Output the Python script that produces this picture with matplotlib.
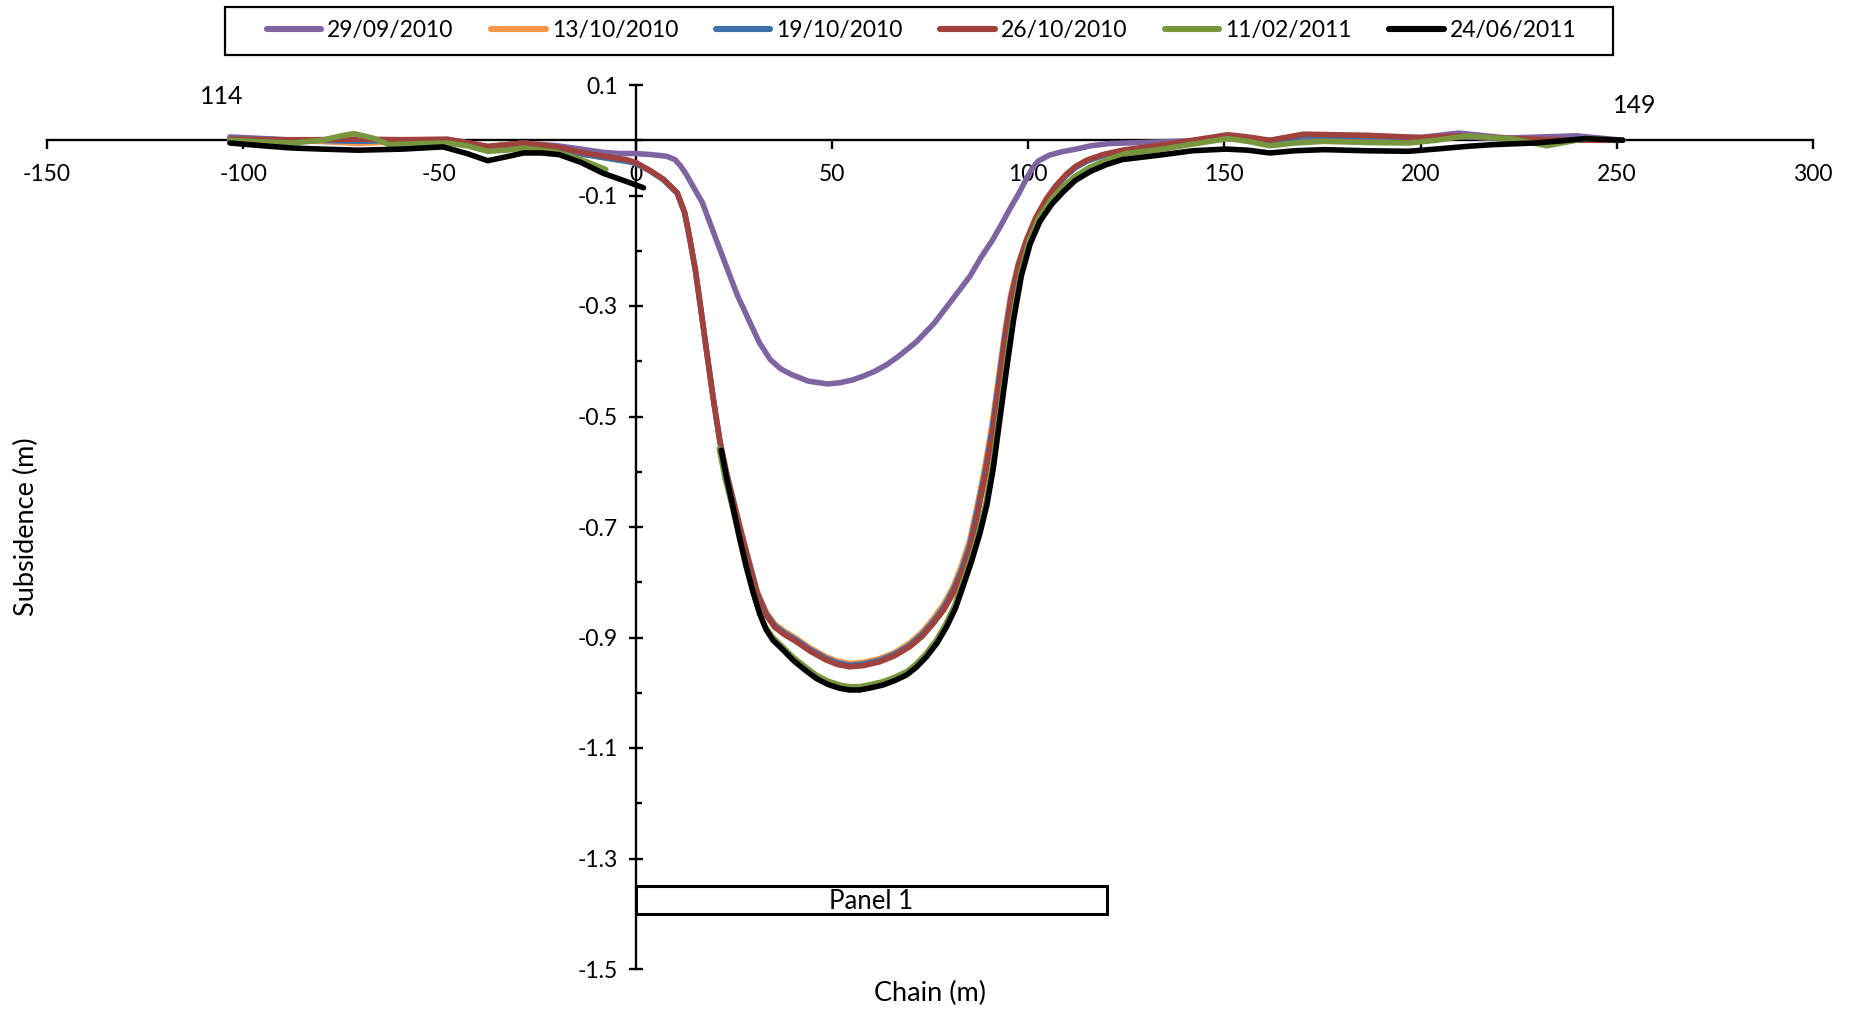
import numpy as np
import matplotlib
matplotlib.use("Agg")
import matplotlib.pyplot as plt
from matplotlib.patches import Rectangle

plt.rcParams['font.family'] = ['Lato', 'DejaVu Sans']
plt.rcParams['axes.unicode_minus'] = False

# ---------------- data ----------------
labels = ["29/09/2010", "13/10/2010", "19/10/2010", "26/10/2010", "11/02/2011", "24/06/2011"]
colors = ["#8064A2", "#F79646", "#3F70AA", "#A0413E", "#77963D", "#000000"]

x_2909 = [-103.4, -92, -82, -70, -59.3, -48, -43, -37.7, -33, -28.6, -20, -13.9, -8.2, -4, 0, 4, 7.9,
          10, 11.5, 13, 14.5, 17.0, 20, 23.4, 26, 28.8, 31.5, 34.3, 37, 39.7, 44, 48.8, 52, 55.2, 58,
          61, 64, 67, 71.5, 76.1, 80.5, 85.2, 88, 90.9, 93, 95.2, 97.5, 99.4, 101, 102.5, 105.4,
          108.5, 112.2, 116, 120.7, 133.4, 142, 150.4, 161.6, 175, 190, 200, 209.7, 222, 239.7, 251.5]
y_2909 = [0.006, 0.002, -0.002, -0.003, -0.004, -0.002, -0.006, -0.012, -0.008, -0.005, -0.010,
          -0.016, -0.022, -0.024, -0.024, -0.026, -0.029, -0.035, -0.047, -0.063, -0.082, -0.113,
          -0.170, -0.234, -0.282, -0.325, -0.366, -0.397, -0.414, -0.424, -0.436, -0.441, -0.439,
          -0.434, -0.427, -0.418, -0.406, -0.391, -0.365, -0.331, -0.290, -0.246, -0.212, -0.181,
          -0.155, -0.126, -0.098, -0.072, -0.052, -0.038, -0.027, -0.021, -0.016, -0.010, -0.006,
          -0.003, -0.001, 0.003, 0.0, 0.005, 0.004, 0.005, 0.013, 0.004, 0.008, 0.0]

# shared chainages for the 13/10, 19/10 and 26/10/2010 surveys
x_oct = [-103.4, -92, -82, -70.7, -59.3, -48, -43, -37.7, -33, -28.6, -20, -13.9, -7, -2.5, 0, 3.5,
         7, 10.6, 12.5, 13.8, 15.2, 16.5, 17.9, 19.7, 21.4, 23, 24.8, 27, 29.1, 31, 33.3, 35.5, 38,
         41, 44.5, 48.6, 51.5, 54.5, 58, 62.2, 66, 69.8, 73, 75.8, 78.5, 80.9, 83, 85.1, 87, 89,
         90.8, 92.5, 94, 95.6, 97.5, 99.5, 102, 104.8, 107, 109.7, 112, 115, 119, 124, 133.4, 141.9,
         150.9, 156, 161.6, 170.1, 186.2, 200.1, 209.7, 223.7, 239.7, 251.5]

y_1310 = [0.002, 0.0, -0.001, -0.006, -0.002, 0.0, -0.005, -0.012, -0.009, -0.006, -0.013, -0.024,
          -0.032, -0.037, -0.041, -0.055, -0.071, -0.096, -0.132, -0.179, -0.235, -0.300, -0.372,
          -0.463, -0.540, -0.596, -0.648, -0.710, -0.767, -0.817, -0.854, -0.876, -0.889, -0.902,
          -0.919, -0.935, -0.943, -0.947, -0.945, -0.938, -0.927, -0.910, -0.890, -0.866, -0.839,
          -0.808, -0.770, -0.724, -0.662, -0.590, -0.514, -0.427, -0.349, -0.278, -0.223, -0.181,
          -0.139, -0.104, -0.083, -0.062, -0.048, -0.036, -0.027, -0.019, -0.010, -0.001, 0.008,
          0.004, -0.002, 0.009, 0.007, 0.004, 0.007, 0.002, 0.0, 0.0]

y_1910 = [0.002, 0.001, 0.0, -0.002, 0.0, 0.001, -0.005, -0.012, -0.009, -0.006, -0.013, -0.025,
          -0.033, -0.038, -0.042, -0.055, -0.071, -0.096, -0.132, -0.179, -0.235, -0.300, -0.373,
          -0.464, -0.542, -0.598, -0.650, -0.713, -0.769, -0.819, -0.857, -0.879, -0.892, -0.905,
          -0.922, -0.938, -0.946, -0.950, -0.948, -0.941, -0.930, -0.914, -0.894, -0.871, -0.845,
          -0.814, -0.778, -0.733, -0.671, -0.601, -0.525, -0.437, -0.357, -0.285, -0.226, -0.183,
          -0.141, -0.106, -0.085, -0.064, -0.050, -0.038, -0.028, -0.019, -0.010, -0.001, 0.008,
          0.003, -0.004, 0.008, 0.007, 0.004, 0.007, 0.002, 0.0, 0.0]

y_2610 = [0.002, 0.001, 0.001, 0.002, 0.001, 0.002, -0.004, -0.011, -0.008, -0.005, -0.012, -0.022,
          -0.030, -0.035, -0.040, -0.054, -0.070, -0.095, -0.131, -0.178, -0.234, -0.300, -0.373,
          -0.465, -0.543, -0.600, -0.652, -0.715, -0.772, -0.822, -0.860, -0.882, -0.895, -0.908,
          -0.925, -0.941, -0.949, -0.953, -0.951, -0.944, -0.933, -0.917, -0.898, -0.875, -0.850,
          -0.820, -0.785, -0.742, -0.680, -0.610, -0.535, -0.445, -0.365, -0.290, -0.228, -0.183,
          -0.140, -0.105, -0.083, -0.062, -0.048, -0.036, -0.026, -0.018, -0.009, 0.000, 0.010,
          0.006, 0.000, 0.011, 0.009, 0.005, 0.008, 0.003, 0.0, 0.0]

x_1102 = [-103.4, -95, -87.7, -80, -75, -71.8, -67, -62.7, -55, -48, -43, -37.7, -33, -28.6, -20,
          -13.9, -7.6, np.nan, 21.3, 22.8, 24.5, 26.3, 28.0, 29.8, 31.4, 33.0, 34.8, 37.3, 40.0, 43,
          46.0, 49, 52.0, 54.5, 57.1, 60, 63.0, 66, 69.0, 71.5, 74.0, 76.6, 79.0, 81.3, 83.2, 85.4,
          87.5, 89.3, 90.9, 92.6, 94.3, 96.1, 98.1, 100.3, 102.8, 105.8, 108.8, 111.8, 115.5, 119.5,
          124.9, 133.4, 141.9, 150.9, 156, 161.6, 168, 175.5, 186, 196.9, 204, 211.9, 223.7, 232.2,
          241.9, 251.5]
y_1102 = [0.0, -0.003, -0.005, 0.000, 0.008, 0.012, 0.004, -0.008, -0.006, -0.005, -0.010, -0.020,
          -0.018, -0.014, -0.022, -0.035, -0.053, np.nan, -0.558, -0.612, -0.660, -0.716, -0.768,
          -0.815, -0.852, -0.880, -0.899, -0.916, -0.935, -0.952, -0.968, -0.979, -0.986, -0.989,
          -0.989, -0.985, -0.980, -0.972, -0.962, -0.948, -0.929, -0.905, -0.876, -0.842, -0.803,
          -0.757, -0.707, -0.655, -0.590, -0.500, -0.410, -0.320, -0.240, -0.182, -0.140, -0.108,
          -0.085, -0.066, -0.050, -0.037, -0.024, -0.017, -0.007, 0.003, -0.002, -0.010, -0.005,
          -0.002, -0.004, -0.005, 0.000, 0.008, 0.002, -0.010, 0.003, 0.0]

x_2406 = [-103.4, -95, -87.7, -80, -70.7, -59.3, -49.1, -43, -37.7, -33, -28.6, -24, -19.5, -14,
          -8.2, -3, 2.0, np.nan, 21.8, 23.3, 24.8, 26.5, 28.2, 30, 31.6, 33.2, 35.0, 37.5, 40.1, 43,
          46.0, 49, 52.0, 54.5, 57.1, 60, 63.0, 66, 69.0, 71.5, 74.1, 76.8, 79.2, 81.5, 83.4, 85.6,
          87.7, 89.5, 91.1, 92.8, 94.5, 96.3, 98.3, 100.5, 103, 106, 109, 112, 116, 120, 124, 133.4,
          141.9, 150.4, 156, 161.6, 168, 175.5, 186, 196.9, 205.5, 212, 218.3, 229, 236, 241.9, 251.5]
y_2406 = [-0.005, -0.010, -0.014, -0.016, -0.018, -0.016, -0.012, -0.024, -0.037, -0.030, -0.023,
          -0.023, -0.026, -0.040, -0.060, -0.073, -0.086, np.nan, -0.561, -0.615, -0.664, -0.720,
          -0.772, -0.820, -0.857, -0.885, -0.905, -0.922, -0.941, -0.958, -0.974, -0.985, -0.992,
          -0.995, -0.995, -0.991, -0.986, -0.978, -0.968, -0.954, -0.935, -0.910, -0.881, -0.847,
          -0.808, -0.762, -0.712, -0.660, -0.595, -0.505, -0.415, -0.325, -0.245, -0.188, -0.147,
          -0.116, -0.093, -0.073, -0.056, -0.044, -0.035, -0.027, -0.019, -0.016, -0.018, -0.023,
          -0.019, -0.017, -0.019, -0.020, -0.015, -0.011, -0.008, -0.005, -0.001, 0.003, 0.0]

series_x = [x_2909, x_oct, x_oct, x_oct, x_1102, x_2406]
series_y = [y_2909, y_1310, y_1910, y_2610, y_1102, y_2406]

x_ticks = [-150, -100, -50, 0, 50, 100, 150, 200, 250, 300]
y_major = [0.1, -0.1, -0.3, -0.5, -0.7, -0.9, -1.1, -1.3, -1.5]
y_major_labels = ["0.1", "-0.1", "-0.3", "-0.5", "-0.7", "-0.9", "-1.1", "-1.3", "-1.5"]
y_minor = [0.0, -0.2, -0.4, -0.6, -0.8, -1.0, -1.2, -1.4]

panel_label = "Panel 1"
panel_x = (0, 120)
panel_y = (-1.40, -1.35)

# ---------------- figure ----------------
W, H = 1858, 1011
fig = plt.figure(figsize=(W / 100, H / 100), dpi=100)
ax = fig.add_axes([47 / W, 1 - 969 / H, (1813 - 47) / W, (969 - 85) / H])
ax.set_xlim(-150, 300)
ax.set_ylim(-1.5, 0.1)
ax.patch.set_alpha(0)

for xs, ys, c, lab in zip(series_x, series_y, colors, labels):
    ax.plot(xs, ys, color=c, lw=4.0, label=lab, solid_capstyle='round', solid_joinstyle='round')

for s in ['top', 'right']:
    ax.spines[s].set_visible(False)
ax.spines['left'].set_position(('data', 0))
ax.spines['bottom'].set_position(('data', 0))
for s in ['left', 'bottom']:
    ax.spines[s].set_linewidth(1.7)
    ax.spines[s].set_zorder(1)

ax.set_xticks(x_ticks)
ax.set_xticklabels([str(v) for v in x_ticks])
ax.set_yticks(y_major)
ax.set_yticklabels(y_major_labels)
ax.set_yticks(y_minor, minor=True)
ax.tick_params(axis='x', direction='out', length=6.5, width=1.7, pad=10.5, labelsize=16.5)
ax.tick_params(axis='y', which='major', direction='inout', length=9.5, width=1.7, pad=8, labelsize=16.5)
ax.tick_params(axis='y', which='minor', direction='in', length=4.5, width=1.7)

# panel box
ax.add_patch(Rectangle((panel_x[0], panel_y[0]), panel_x[1] - panel_x[0], panel_y[1] - panel_y[0],
                       facecolor='white', edgecolor='black', lw=2.2, zorder=5))
ax.text((panel_x[0] + panel_x[1]) / 2, (panel_y[0] + panel_y[1]) / 2 - 0.002, panel_label,
        ha='center', va='center', fontsize=18.5, zorder=6)

# end labels
ax.text(-105.6, 0.080, "114", ha='center', va='center', fontsize=18)
ax.text(254.6, 0.062, "149", ha='center', va='center', fontsize=18)

# axis titles
fig.text(26 / W, 1 - 527 / H, "Subsidence (m)", rotation=90, ha='center', va='center', fontsize=19.5)
fig.text(930 / W, 1 - 993 / H, "Chain (m)", ha='center', va='center', fontsize=19.5)

# legend (frame drawn separately to match the wide box)
fig.patches.append(Rectangle((225 / W, 1 - 54.5 / H), (1613 - 225) / W, 47.5 / H,
                             transform=fig.transFigure, facecolor='white', edgecolor='black',
                             lw=1.6, zorder=0))
leg = fig.legend(loc='center', bbox_to_anchor=((263 + 1580) / 2 / W, 1 - 31 / H), ncol=6,
                 fontsize=16.5, frameon=False, handlelength=2.38, handletextpad=0.26,
                 columnspacing=1.64, borderpad=0.3)
for h in leg.get_lines():
    h.set_linewidth(4.4)

fig.savefig("out.png", dpi=100)
